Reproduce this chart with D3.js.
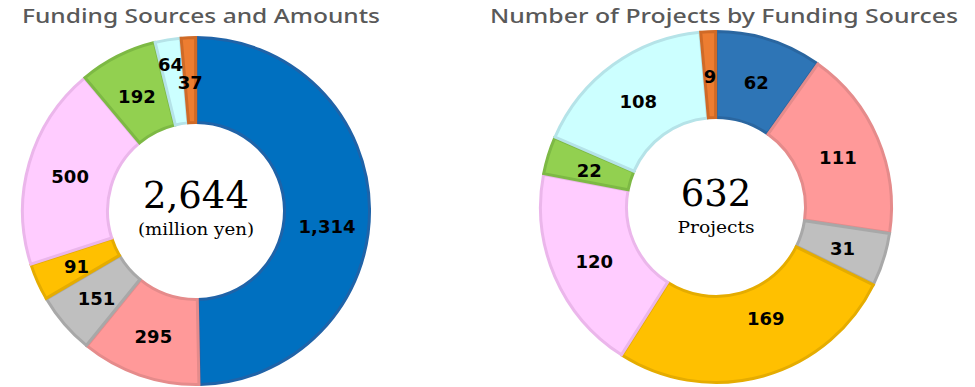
<!DOCTYPE html>
<html>
<head>
  <meta charset="utf-8">
  <title>Funding Sources</title>
  <script src="https://d3js.org/d3.v7.min.js"></script>
  <style>
    body { margin: 0; background: #fff; }
    .title { font-family: "Noto Sans", "Open Sans", sans-serif; font-size: 20px; fill: #595959; font-weight: 500; }
    .lbl { font-family: "DejaVu Sans", Verdana, sans-serif; font-weight: bold; font-size: 18px; fill: #000; }
    .big { font-family: "DejaVu Serif", "Liberation Serif", serif; font-size: 37px; fill: #000; }
    .unit { font-family: "DejaVu Serif", "Liberation Serif", serif; font-size: 16px; fill: #000; }
  </style>
</head>
<body>
  <script>
    // slice order (clockwise from 12 o'clock)
    var sources = ["s1", "s2", "s3", "s4", "s5", "s6", "s7", "s8"];
    var amountValues = [1314, 295, 151, 91, 500, 192, 64, 37];      // million yen
    var projectValues = [62, 111, 31, 169, 120, 22, 108, 9];        // projects

    var fillColors = ["#0070C0", "#FF9999", "#BFBFBF", "#FFC000", "#FFCCFF", "#92D050", "#CCFFFF", "#ED7D31"];
    var edgeColors = ["#1F63A8", "#E58B8B", "#A8A8A8", "#E5AC00", "#EBB6EB", "#7DB944", "#B5E3E8", "#CF6A27"];

    var width = 975, height = 387;

    var svg = d3.select("body").append("svg")
      .attr("width", width)
      .attr("height", height);

    // draw one doughnut
    function donut(opts) {
      var g = svg.append("g")
        .attr("transform", "translate(" + opts.cx + "," + opts.cy + ")");

      var pie = d3.pie().sort(null).value(function(d) { return d.value; });
      var data = sources.map(function(s, i) { return {key: s, value: opts.values[i], i: i}; });
      var arcs = pie(data);

      var sw = 3;
      var arc = d3.arc()
        .innerRadius(opts.inner + sw / 2)
        .outerRadius(opts.outer - sw / 2)
        .padAngle(0.004);

      var labelArc = d3.arc()
        .innerRadius(opts.inner)
        .outerRadius(opts.outer);

      g.selectAll("path.slice")
        .data(arcs)
        .enter().append("path")
        .attr("class", "slice")
        .attr("d", arc)
        .style("fill", function(d) { return opts.fills[d.data.i]; })
        .style("stroke", function(d) { return opts.edges[d.data.i]; })
        .style("stroke-width", sw)
        .style("stroke-linejoin", "miter");

      g.selectAll("text.lbl")
        .data(arcs)
        .enter().append("text")
        .attr("class", "lbl")
        .attr("text-anchor", "middle")
        .attr("dominant-baseline", "central")
        .attr("transform", function(d) {
          var c = labelArc.centroid(d);
          var n = opts.nudge[d.data.i] || [0, 0];
          return "translate(" + (c[0] + n[0]) + "," + (c[1] + n[1] + 2) + ")";
        })
        .text(function(d) { return d3.format(",")(d.data.value); });

      // center total
      g.append("text")
        .attr("class", "big")
        .attr("text-anchor", "middle")
        .attr("y", opts.totalY)
        .text(d3.format(",")(d3.sum(opts.values)));

      g.append("text")
        .attr("class", "unit")
        .attr("text-anchor", "middle")
        .attr("y", opts.unitY)
        .attr("textLength", opts.unitW)
        .attr("lengthAdjust", "spacingAndGlyphs")
        .text(opts.unit);

      svg.append("text")
        .attr("class", "title")
        .attr("x", opts.titleX)
        .attr("y", 23)
        .attr("text-anchor", "middle")
        .attr("textLength", opts.titleW)
        .attr("lengthAdjust", "spacingAndGlyphs")
        .text(opts.title);
    }

    donut({
      cx: 196, cy: 211, outer: 175, inner: 87,
      values: amountValues,
      fills: fillColors,
      edges: edgeColors,
      nudge: {0: [0, 15], 6: [-4, -19]},
      unit: "(million yen)", unitY: 24, unitW: 116, totalY: -3,
      title: "Funding Sources and Amounts",
      titleX: 201, titleW: 358
    });

    donut({
      cx: 716, cy: 207, outer: 177, inner: 88,
      values: projectValues,
      fills: ["#2E75B6"].concat(fillColors.slice(1)),
      edges: ["#2A66A0"].concat(edgeColors.slice(1)),
      nudge: {3: [14, -18]},
      unit: "Projects", unitY: 26, unitW: 77, totalY: -1,
      title: "Number of Projects by Funding Sources",
      titleX: 724, titleW: 468
    });
  </script>
</body>
</html>
